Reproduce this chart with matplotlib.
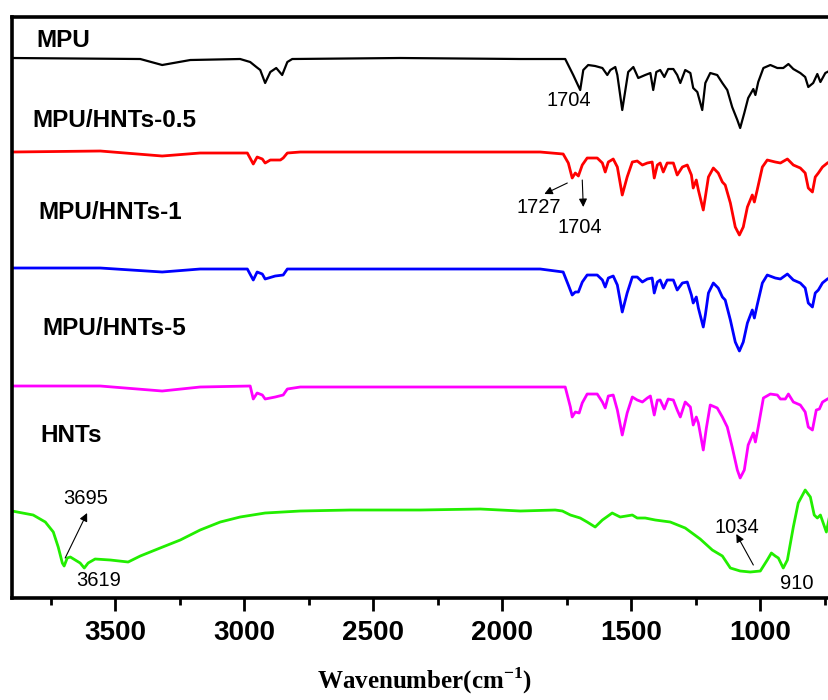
import matplotlib
matplotlib.use("Agg")
import matplotlib.pyplot as plt
from matplotlib.ticker import MultipleLocator

# FTIR spectra, relative transmittance (baseline = 100)
mpu_wn = [3900, 3403, 3318, 3209, 3016, 2977, 2953, 2938, 2919, 2899, 2876, 2853, 2833, 2814, 2395,
          1930, 1756, 1725, 1698, 1686, 1667, 1640, 1612, 1593, 1581, 1562, 1554, 1535, 1512, 1492,
          1473, 1446, 1426, 1415, 1403, 1388, 1372, 1357, 1337, 1322, 1310, 1291, 1271, 1260, 1244,
          1225, 1213, 1194, 1167, 1147, 1128, 1109, 1089, 1078, 1062, 1047, 1027, 1019, 1008, 988,
          961, 934, 911, 891, 872, 845, 826, 814, 795, 779, 767, 748, 733]
mpu_t = [101, 100, 94, 99, 100, 97, 92, 89, 76, 87, 91, 84, 97, 100, 101,
         100, 100, 84, 69, 89, 94, 93, 91, 84, 89, 92, 84, 49, 87, 92,
         81, 84, 86, 69, 87, 89, 82, 90, 90, 84, 76, 89, 86, 71, 67,
         49, 76, 86, 84, 76, 69, 52, 39, 31, 46, 61, 70, 64, 77, 91,
         94, 91, 91, 95, 90, 86, 82, 72, 76, 85, 77, 86, 88]

# fingerprint region shared by the composites
comp_wn = [1764, 1744, 1729, 1717, 1705, 1690, 1671, 1632, 1612, 1601, 1589, 1570, 1554, 1535, 1516,
           1496, 1477, 1457, 1438, 1419, 1411, 1399, 1388, 1376, 1361, 1337, 1322, 1302, 1283, 1267,
           1260, 1248, 1240, 1221, 1213, 1201, 1182, 1163, 1147, 1136, 1116, 1097, 1081, 1066, 1050,
           1031, 1023, 1012, 992, 973, 942, 922, 895, 872, 845, 826, 814, 798, 787, 775, 759, 740, 733]

h05_wn = [3900, 3558, 3318, 3171, 2988, 2965, 2950, 2930, 2919, 2899, 2860, 2849, 2833, 2783, 2395, 1853] + comp_wn
h05_t = [100, 101, 96, 99, 99, 88, 95, 93, 89, 92, 92, 94, 99, 100, 100, 100,
         98, 89, 74, 79, 76, 87, 94, 94, 89, 80, 90, 93, 85, 57, 75,
         90, 91, 87, 89, 90, 74, 87, 89, 80, 89, 89, 77, 85, 87, 77,
         64, 72, 62, 42, 55, 75, 84, 79, 70, 67, 49, 25, 17, 25, 45,
         57, 50, 62, 85, 92, 90, 89, 93, 87, 84, 79, 64, 60, 75, 79, 85, 89, 90]

h1_wn = [3900, 3558, 3318, 3171, 2988, 2965, 2950, 2930, 2919, 2880, 2849, 2833, 2395, 1853] + comp_wn
h1_t = [101, 101, 97, 100, 100, 89, 97, 95, 90, 93, 94, 100, 100, 100,
        97, 84, 74, 77, 77, 87, 94, 94, 89, 82, 91, 93, 84, 57, 76,
        92, 92, 87, 90, 91, 76, 87, 89, 81, 89, 89, 79, 86, 87, 74,
        66, 72, 61, 42, 54, 76, 86, 81, 72, 69, 49, 27, 18, 27, 46,
        59, 51, 64, 86, 94, 91, 90, 95, 89, 86, 81, 66, 62, 76, 79, 86, 90, 91]

h5_wn = [3900, 3558, 3318, 3171, 2977, 2965, 2950, 2930, 2919, 2880, 2849, 2833, 2783, 2395, 1853,
         1756, 1736, 1729, 1717, 1702, 1690, 1671, 1632, 1612, 1601, 1589, 1570, 1554, 1535, 1516,
         1496, 1477, 1457, 1438, 1426, 1411, 1399, 1388, 1372, 1357, 1337, 1322, 1310, 1291, 1271,
         1260, 1248, 1240, 1221, 1209, 1194, 1167, 1147, 1128, 1109, 1089, 1078, 1062, 1047, 1027,
         1019, 1008, 988, 961, 934, 922, 903, 891, 872, 845, 826, 814, 798, 783, 771, 759, 733]
h5_t = [100, 100, 95, 99, 100, 87, 93, 91, 87, 89, 91, 97, 99, 99, 99,
        99, 79, 69, 74, 73, 83, 92, 92, 84, 78, 90, 91, 76, 51, 73,
        89, 86, 84, 88, 90, 71, 86, 86, 77, 87, 86, 76, 69, 84, 79,
        61, 69, 63, 36, 58, 81, 78, 69, 59, 39, 16, 8, 16, 41, 53,
        44, 59, 88, 92, 91, 87, 87, 92, 84, 81, 74, 59, 56, 76, 77, 84, 88]

hnt_wn = [3900, 3818, 3771, 3740, 3721, 3705, 3698, 3686, 3674, 3655, 3636, 3620, 3605, 3578, 3519,
          3450, 3403, 3326, 3248, 3171, 3093, 3016, 2919, 2783, 2589, 2318, 2085, 1930, 1795, 1767,
          1736, 1698, 1671, 1640, 1612, 1574, 1543, 1496, 1477, 1446, 1407, 1349, 1291, 1233, 1186,
          1147, 1116, 1078, 1039, 1000, 973, 957, 942, 930, 911, 895, 872, 853, 826, 806,
          791, 779, 767, 744, 733]
hnt_t = [99, 95, 88, 78, 63, 47, 44, 52, 53, 50, 47, 42, 47, 51, 50,
         48, 54, 62, 70, 80, 88, 93, 97, 99, 100, 100, 101, 99, 100, 99,
         95, 92, 88, 83, 90, 97, 93, 95, 92, 92, 90, 88, 82, 71, 60,
         54, 42, 39, 38, 39, 50, 57, 54, 52, 42, 50, 83, 107, 120, 113,
         95, 92, 95, 78, 92]

names = ["MPU", "MPU/HNTs-0.5", "MPU/HNTs-1", "MPU/HNTs-5", "HNTs"]
offsets = [439, 346, 229, 112, -12]
colors = ["#000000", "#ff0000", "#0000ff", "#ff00ff", "#22ee00"]
spectra = [(mpu_wn, mpu_t), (h05_wn, h05_t), (h1_wn, h1_t), (h5_wn, h5_t), (hnt_wn, hnt_t)]

fig = plt.figure(figsize=(8.29, 7.0), dpi=100)
ax = fig.add_axes([0.0145, 0.1457, 0.996, 0.83])

for (wn, t), off, c in zip(spectra, offsets, colors):
    lw = 1.6 if c == "#000000" else 2.0
    ax.plot(wn, [v + off for v in t], color=c, lw=lw, solid_joinstyle="round")

ax.set_xlim(3900, 700)
ax.set_ylim(0, 581)

# sample names
label_pos = [(3806, 558), (3822, 478), (3798, 386), (3783, 270), (3791, 163)]
for n, (x, y) in zip(names, label_pos):
    ax.text(x, y, n, fontsize=17.5, fontweight="bold", family="Liberation Sans",
            ha="left", va="center")

# peak annotations
afont = dict(fontsize=14.5, family="Liberation Sans", ha="center", va="center")
arrow = dict(arrowstyle="-|>", color="k", lw=0.8, mutation_scale=12, shrinkA=0, shrinkB=0)
ax.text(1744, 498, "1704", **afont)
ax.annotate("", xy=(1837, 404), xytext=(1748, 415), arrowprops=arrow)
ax.text(1860, 391, "1727", **afont)
ax.annotate("", xy=(1686, 391), xytext=(1690, 418), arrowprops=arrow)
ax.text(1698, 371, "1704", **afont)
ax.annotate("", xy=(3609, 85), xytext=(3694, 40), arrowprops=arrow)
ax.text(3616, 100, "3695", **afont)
ax.text(3566, 18, "3619", **afont)
ax.annotate("", xy=(1093, 64), xytext=(1027, 33), arrowprops=arrow)
ax.text(1089, 71, "1034", **afont)
ax.text(860, 15, "910", **afont)

ax.xaxis.set_major_locator(MultipleLocator(500))
ax.xaxis.set_minor_locator(MultipleLocator(250))
ax.tick_params(axis="x", which="major", direction="out", length=9, width=2, pad=7,
               labelsize=20)
ax.tick_params(axis="x", which="minor", direction="out", length=5, width=2)
for lab in ax.get_xticklabels():
    lab.set_fontweight("bold")
    lab.set_family("Liberation Sans")
ax.set_yticks([])
for s in ax.spines.values():
    s.set_linewidth(2.6)

ax.set_xlabel("Wavenumber(cm$^{\\mathregular{-1}}$)", fontsize=18, fontweight="bold",
              family="Liberation Serif", labelpad=14)

fig.savefig("out.png", dpi=100)
